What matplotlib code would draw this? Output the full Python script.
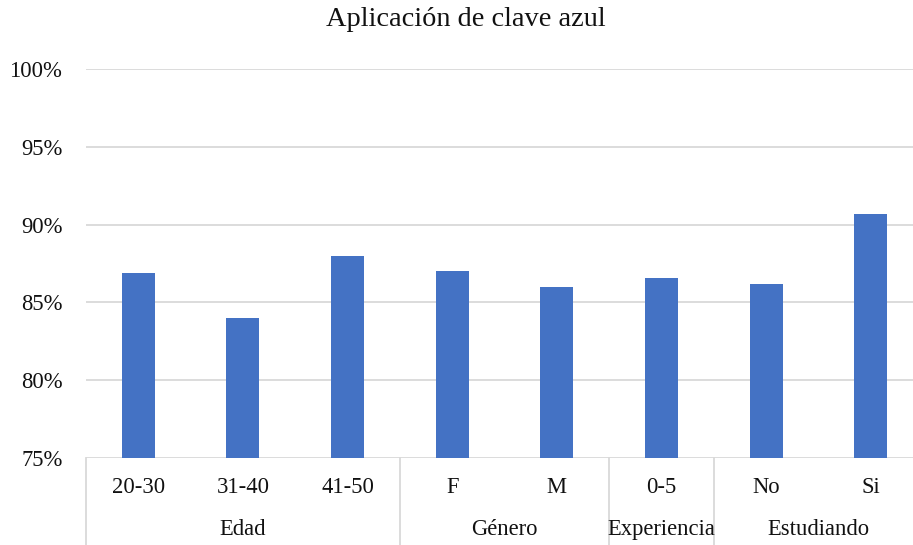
import matplotlib
matplotlib.use('Agg')
import matplotlib.pyplot as plt
import matplotlib.transforms as mtransforms

plt.rcParams['font.family'] = ['Liberation Serif', 'DejaVu Serif']

# Data
categories = ['20-30', '31-40', '41-50', 'F', 'M', '0-5', 'No', 'Si']
values = [86.9, 84.0, 88.0, 87.0, 86.0, 86.6, 86.2, 90.7]
groups = ['Edad', 'Género', 'Experiencia', 'Estudiando']
group_sizes = [3, 2, 1, 2]
yticks = [75, 80, 85, 90, 95, 100]

fig = plt.figure(figsize=(9.13, 5.45), dpi=100)
ax = fig.add_axes([86 / 913, 87 / 545, (923 - 86) / 913, (458 - 69) / 545])

x = list(range(len(categories)))
ax.bar(x, values, width=0.315, color='#4472C4', zorder=3)

ax.set_xlim(-0.5, len(categories) - 0.5)
ax.set_ylim(75, 100)
ax.set_yticks(yticks)
ax.set_yticklabels([f'{v}%' for v in yticks], fontsize=16.3, color='#111111')
ax.set_xticks([])
ax.tick_params(axis='y', length=0, pad=17)
ax.grid(axis='y', color='#D9D9D9', linewidth=1.3, zorder=0)
for s in ax.spines.values():
    s.set_visible(False)

trans = mtransforms.blended_transform_factory(ax.transData, ax.transAxes)

# category labels
for xi, c in zip(x, categories):
    ax.text(xi, -0.075, c, transform=trans, ha='center', va='center', fontsize=16.3, color='#111111')

# group labels and separators
start = 0
bounds = [-0.5]
for g, n in zip(groups, group_sizes):
    center = start + (n - 1) / 2
    ax.text(center, -0.185, g, transform=trans, ha='center', va='center', fontsize=16.3, color='#111111')
    start += n
    bounds.append(start - 0.5)
for b in bounds:
    ax.plot([b, b], [0, -0.3], transform=trans, color='#D9D9D9', linewidth=1.3, clip_on=False)

fig.suptitle('Aplicación de clave azul', x=466 / 913, y=1 - 20 / 545, va='center', fontsize=20.4, color='#111111')

fig.savefig('out.png', dpi=100)
